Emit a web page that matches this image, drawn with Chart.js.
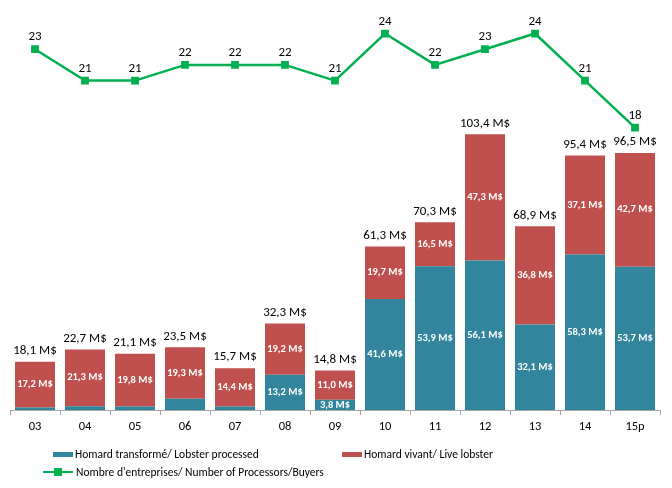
<!DOCTYPE html>
<html>
<head>
<meta charset="utf-8">
<script src="https://cdn.jsdelivr.net/npm/chart.js@4"></script>
<style>
  html, body { margin: 0; padding: 0; background: #fff; }
  #wrap { position: relative; width: 672px; height: 488px; }
  canvas { position: absolute; left: 0; top: 0; }
  .leg { position: absolute; font-family: Carlito, Lato, sans-serif; font-size: 11.5px; color: #000; white-space: nowrap; line-height: 12px; }
  .sw { position: absolute; }
</style>
</head>
<body>
<div id="wrap">
  <canvas id="c" width="672" height="488"></canvas>
  <div class="sw" style="left:53px;top:452px;width:20px;height:5px;background:#31859C"></div>
  <div class="leg" style="left:75px;top:448px">Homard transformé/ Lobster processed</div>
  <div class="sw" style="left:342px;top:452px;width:20px;height:5px;background:#C0504D"></div>
  <div class="leg" style="left:364px;top:448px">Homard vivant/ Live lobster</div>
  <div class="sw" style="left:43px;top:471px;width:30px;height:2px;background:#00B050"></div>
  <div class="sw" style="left:54px;top:468px;width:8px;height:8px;background:#00B050"></div>
  <div class="leg" style="left:76px;top:466px">Nombre d'entreprises/ Number of Processors/Buyers</div>
</div>
<script>
const categories = ['03','04','05','06','07','08','09','10','11','12','13','14','15p'];
const processed = [0.9, 1.4, 1.3, 4.2, 1.3, 13.2, 3.8, 41.6, 53.9, 56.1, 32.1, 58.3, 53.7];
const live = [17.2, 21.3, 19.8, 19.3, 14.4, 19.2, 11.0, 19.7, 16.5, 47.3, 36.8, 37.1, 42.7];
const totals = [18.1, 22.7, 21.1, 23.5, 15.7, 32.3, 14.8, 61.3, 70.3, 103.4, 68.9, 95.4, 96.5];
const buyers = [23, 21, 21, 22, 22, 22, 21, 24, 22, 23, 24, 21, 18];
const processedLabelShown = [false, false, false, false, false, true, true, true, true, true, true, true, true];

const FONT = 'Carlito, Lato, sans-serif';
const fmt = v => v.toFixed(1).replace('.', ',') + ' M$';

const labelPlugin = {
  id: 'labels',
  afterDatasetsDraw(chart) {
    const ctx = chart.ctx;
    ctx.save();
    ctx.textAlign = 'center';
    ctx.textBaseline = 'middle';
    const mP = chart.getDatasetMeta(0);
    const mL = chart.getDatasetMeta(1);
    const mN = chart.getDatasetMeta(2);
    ctx.fillStyle = '#fff';
    ctx.font = 'bold 10.5px ' + FONT;
    mP.data.forEach((el, i) => {
      if (processedLabelShown[i]) ctx.fillText(fmt(processed[i]), el.x, (el.y + el.base) / 2);
    });
    mL.data.forEach((el, i) => {
      ctx.fillText(fmt(live[i]), el.x, (el.y + el.base) / 2);
    });
    ctx.fillStyle = '#000';
    ctx.font = '13px ' + FONT;
    mL.data.forEach((el, i) => {
      ctx.fillText(fmt(totals[i]), el.x, el.y - 11);
    });
    mN.data.forEach((el, i) => {
      ctx.fillText(String(buyers[i]), el.x, el.y - 12);
    });
    ctx.restore();
  }
};

new Chart(document.getElementById('c'), {
  type: 'bar',
  data: {
    labels: categories,
    datasets: [
      { label: 'Homard transformé/ Lobster processed', data: processed, backgroundColor: '#31859C', yAxisID: 'y', order: 2, categoryPercentage: 1, barPercentage: 0.8 },
      { label: 'Homard vivant/ Live lobster', data: live, backgroundColor: '#C0504D', yAxisID: 'y', order: 2, categoryPercentage: 1, barPercentage: 0.8 },
      { type: 'line', label: "Nombre d'entreprises/ Number of Processors/Buyers", data: buyers, yAxisID: 'y2', order: 0,
        borderColor: '#00B050', backgroundColor: '#00B050', borderWidth: 2.5, pointStyle: 'rect', pointRadius: 5.5,
        pointBorderWidth: 0, tension: 0, stack: 'line' }
    ]
  },
  options: {
    responsive: false,
    animation: false,
    events: [],
    layout: { padding: { top: 10, left: 10, right: 12, bottom: 50 } },
    plugins: { legend: { display: false }, tooltip: { enabled: false } },
    scales: {
      x: {
        stacked: true,
        grid: { drawOnChartArea: false, drawTicks: true, tickLength: 5, color: '#A6A6A6', offset: true },
        border: { color: '#A6A6A6', width: 1 },
        ticks: { color: '#000', font: { family: FONT, size: 12.5 }, padding: 4, autoSkip: false, maxRotation: 0 }
      },
      y: { stacked: true, display: false, min: 0, max: 150 },
      y2: { stacked: false, display: false, min: 0, max: 25.5 }
    }
  },
  plugins: [labelPlugin]
});
</script>
</body>
</html>
